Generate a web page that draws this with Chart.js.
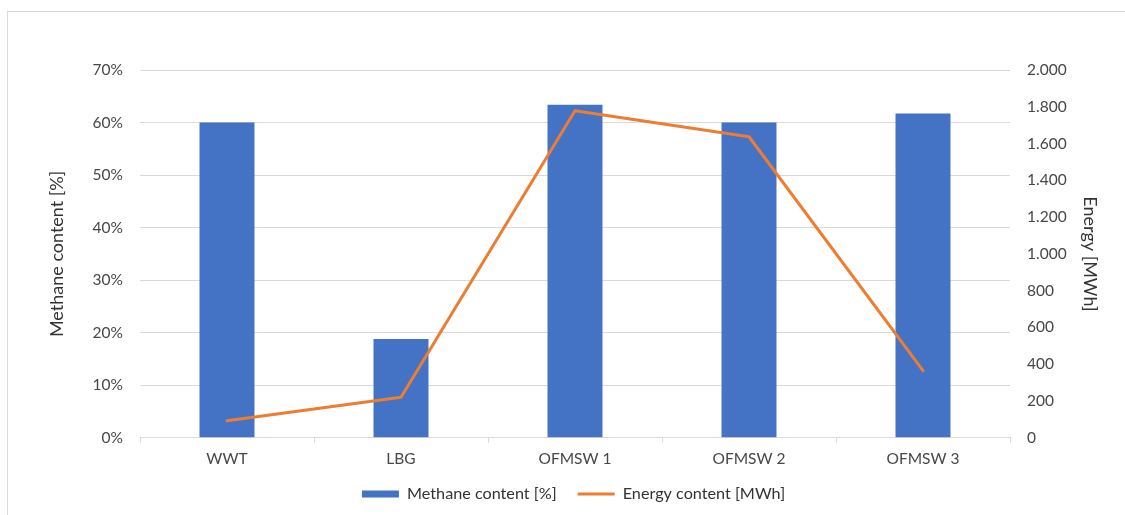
<!DOCTYPE html>
<html>
<head>
<meta charset="utf-8">
<script src="https://cdn.jsdelivr.net/npm/chart.js@4.4.1/dist/chart.umd.min.js"></script>
<style>
  html, body { margin: 0; padding: 0; background: #ffffff; }
  #wrap { position: relative; width: 1125px; height: 515px; overflow: hidden; }
  #frame { position: absolute; left: 7px; top: 11px; width: 1200px; height: 600px;
           border-left: 1px solid #d9d9d9; border-top: 1px solid #d9d9d9; }
  #chart { position: absolute; left: 0; top: 0; }
</style>
</head>
<body>
<div id="wrap">
  <div id="frame"></div>
  <canvas id="chart" width="1125" height="515"></canvas>
</div>
<script>
// Sites sampled
const categories = ['WWT', 'LBG', 'OFMSW 1', 'OFMSW 2', 'OFMSW 3'];
// Methane share of the biogas, in percent
const methaneContent = [60.0, 18.8, 63.4, 60.0, 61.7];
// Energy content of the gas, in MWh
const energyContent = [93, 220, 1778, 1637, 365];
// Axis tick ranges
const methaneTicks = { min: 0, max: 70, step: 10 };
const energyTicks = { min: 0, max: 2000, step: 200 };

const FONT = 'Lato, "Open Sans", sans-serif';
const TICK_COLOR = '#474747';
const TITLE_COLOR = '#333333';
const GRID_COLOR = '#d9d9d9';

function formatThousands(v) {
  return String(v).replace(/\B(?=(\d{3})+(?!\d))/g, '.');
}

new Chart(document.getElementById('chart'), {
  data: {
    labels: categories,
    datasets: [
      {
        type: 'bar',
        label: 'Methane content [%]',
        data: methaneContent,
        yAxisID: 'yMethane',
        backgroundColor: '#4472C4',
        borderWidth: 0,
        categoryPercentage: 1.0,
        barPercentage: 0.316,
        order: 1
      },
      {
        type: 'line',
        label: 'Energy content [MWh]',
        data: energyContent,
        yAxisID: 'yEnergy',
        borderColor: '#ED7D31',
        backgroundColor: '#ED7D31',
        borderWidth: 3,
        pointRadius: 0,
        pointHoverRadius: 0,
        tension: 0,
        borderCapStyle: 'round',
        borderJoinStyle: 'round',
        order: 0
      }
    ]
  },
  options: {
    responsive: false,
    animation: false,
    layout: { padding: { left: 46, right: 24, top: 70, bottom: 3 } },
    plugins: {
      tooltip: { enabled: false },
      legend: {
        position: 'bottom',
        labels: {
          font: { family: FONT, size: 16.2 },
          color: TITLE_COLOR,
          usePointStyle: true,
          pointStyleWidth: 37,
          boxHeight: 7,
          padding: 21,
          generateLabels(chart) {
            const items = Chart.defaults.plugins.legend.labels.generateLabels(chart);
            items.sort((a, b) => a.datasetIndex - b.datasetIndex);
            items.forEach(it => {
              if (it.datasetIndex === 0) {
                it.pointStyle = 'rect';
                it.lineWidth = 0;
              } else {
                it.pointStyle = 'line';
                it.lineWidth = 3;
                it.strokeStyle = '#ED7D31';
              }
            });
            return items;
          }
        }
      }
    },
    scales: {
      x: {
        type: 'category',
        offset: true,
        grid: {
          offset: true,
          drawOnChartArea: false,
          drawTicks: true,
          tickLength: 5,
          color: GRID_COLOR
        },
        border: { display: true, color: GRID_COLOR, width: 1 },
        ticks: {
          color: TICK_COLOR,
          font: { family: FONT, size: 15.5 },
          padding: 7,
          maxRotation: 0
        },
        afterFit(scale) { scale.height = 27; }
      },
      yMethane: {
        type: 'linear',
        position: 'left',
        min: methaneTicks.min,
        max: methaneTicks.max,
        grid: { color: GRID_COLOR, drawTicks: false, lineWidth: 1 },
        border: { display: false },
        ticks: {
          stepSize: methaneTicks.step,
          color: TICK_COLOR,
          font: { family: FONT, size: 15.5 },
          padding: 17,
          callback: v => v + '%'
        },
        title: {
          display: true,
          text: 'Methane content [%]',
          color: TITLE_COLOR,
          font: { family: FONT, size: 18 },
          padding: { top: 0, bottom: 0 }
        },
        afterFit(scale) { scale.width = 94; }
      },
      yEnergy: {
        type: 'linear',
        position: 'right',
        min: energyTicks.min,
        max: energyTicks.max,
        grid: { display: false, drawTicks: false },
        border: { display: false },
        ticks: {
          stepSize: energyTicks.step,
          color: TICK_COLOR,
          font: { family: FONT, size: 15.5 },
          padding: 17,
          callback: v => formatThousands(v)
        },
        title: {
          display: true,
          text: 'Energy [MWh]',
          color: TITLE_COLOR,
          font: { family: FONT, size: 18 },
          padding: { top: 0, bottom: 0 }
        },
        afterFit(scale) { scale.width = 91; }
      }
    }
  }
});
</script>
</body>
</html>
